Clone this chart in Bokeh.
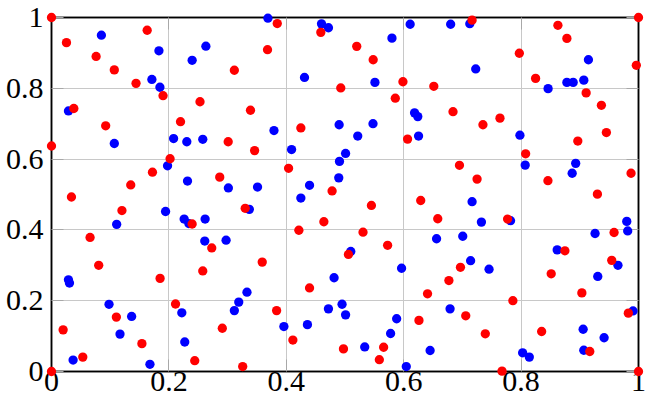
from bokeh.plotting import figure
from bokeh.models import Range1d, LinearAxis, FixedTicker
from bokeh.embed import file_html
from bokeh.resources import INLINE

# ---- data ----
blue_x = [0.085, 0.183, 0.263, 0.2396, 0.171, 0.1847, 0.0289, 0.107, 0.208, 0.2305,
          0.2577, 0.1977, 0.2317, 0.3013, 0.3687, 0.46, 0.4718, 0.611, 0.68, 0.580,
          0.431, 0.551, 0.6185, 0.624, 0.379, 0.490, 0.5477, 0.5217, 0.6253, 0.409,
          0.501, 0.4906, 0.4894, 0.351, 0.4396, 0.4248, 0.7126, 0.7227, 0.9147, 0.846,
          0.878, 0.8887, 0.9068, 0.798, 0.807, 0.893, 0.887, 0.7165, 0.1943, 0.111,
          0.226, 0.234, 0.2617, 0.2611, 0.2974, 0.0289, 0.0306, 0.098, 0.1365, 0.1167,
          0.222, 0.227, 0.0368, 0.1677, 0.333, 0.319, 0.3115, 0.337, 0.656, 0.5098,
          0.5964, 0.4814, 0.4718, 0.495, 0.501, 0.679, 0.3959, 0.436, 0.588, 0.5777,
          0.5336, 0.645, 0.6044, 0.7324, 0.782, 0.980, 0.9816, 0.7006, 0.926, 0.8615,
          0.714, 0.7454, 0.965, 0.9306, 0.9907, 0.9057, 0.9414, 0.9068, 0.8026, 0.814]
blue_y = [0.950, 0.906, 0.919, 0.879, 0.825, 0.803, 0.736, 0.644, 0.658, 0.649,
          0.656, 0.581, 0.538, 0.5186, 0.998, 0.982, 0.971, 0.981, 0.981, 0.9417,
          0.8306, 0.8167, 0.7306, 0.720, 0.6806, 0.697, 0.700, 0.665, 0.665, 0.627,
          0.616, 0.5935, 0.547, 0.521, 0.526, 0.490, 0.9824, 0.8546, 0.8806, 0.799,
          0.8167, 0.8167, 0.823, 0.6676, 0.583, 0.588, 0.560, 0.4796, 0.452, 0.4157,
          0.4306, 0.418, 0.4306, 0.3685, 0.371, 0.259, 0.25, 0.1898, 0.1556, 0.1056,
          0.1657, 0.0833, 0.0324, 0.0204, 0.224, 0.196, 0.172, 0.458, 0.375, 0.339,
          0.2917, 0.2648, 0.177, 0.19, 0.160, 0.177, 0.1269, 0.1324, 0.149, 0.1074,
          0.0694, 0.0593, 0.0139, 0.422, 0.426, 0.424, 0.397, 0.382, 0.3898, 0.3435,
          0.313, 0.289, 0.300, 0.2685, 0.171, 0.1194, 0.0954, 0.060, 0.0528, 0.0407]

red_x = [0.0, 0.0255, 0.163, 0.076, 0.107, 0.144, 0.3115, 0.190, 0.038, 0.253,
         0.339, 0.0923, 0.2198, 0.0, 0.301, 0.202, 0.172, 0.135, 0.2866, 0.034,
         0.3846, 0.4588, 0.368, 0.520, 0.548, 0.4928, 0.5987, 0.6513, 0.5857, 0.4248,
         0.6066, 0.346, 0.4039, 0.478, 0.629, 0.7165, 1.0, 0.8627, 0.878, 0.797,
         0.9963, 0.8247, 0.9108, 0.9368, 0.684, 0.735, 0.764, 0.9453, 0.8966, 0.8077,
         0.695, 0.725, 0.8457, 0.9873, 0.930, 0.120, 0.2396, 0.330, 0.0657, 0.273,
         0.0804, 0.2577, 0.185, 0.2113, 0.1105, 0.0198, 0.291, 0.154, 0.0533, 0.244,
         0.3257, 0.0, 0.545, 0.658, 0.464, 0.4214, 0.5307, 0.5726, 0.5058, 0.359,
         0.4396, 0.6406, 0.677, 0.3835, 0.626, 0.4112, 0.4974, 0.5658, 0.5585, 0.777,
         0.9584, 0.8746, 0.6967, 0.9544, 0.8513, 0.9035, 0.786, 0.7057, 0.9827, 0.739,
         0.835, 0.917, 0.7675, 1.0]
red_y = [1.0, 0.929, 0.964, 0.890, 0.852, 0.814, 0.851, 0.779, 0.743, 0.762,
         0.738, 0.694, 0.7056, 0.637, 0.649, 0.601, 0.563, 0.527, 0.549, 0.493,
         0.983, 0.958, 0.909, 0.9185, 0.8806, 0.801, 0.8185, 0.8056, 0.772, 0.688,
         0.6565, 0.624, 0.574, 0.510, 0.483, 0.9925, 1.0, 0.978, 0.941, 0.899,
         0.865, 0.828, 0.787, 0.752, 0.734, 0.697, 0.7157, 0.675, 0.651, 0.615,
         0.5824, 0.5435, 0.539, 0.560, 0.501, 0.4546, 0.4167, 0.461, 0.3787, 0.349,
         0.300, 0.284, 0.263, 0.1907, 0.1537, 0.1176, 0.1222, 0.0787, 0.0407, 0.0306,
         0.0139, 0.0, 0.469, 0.4315, 0.423, 0.399, 0.3935, 0.3565, 0.3306, 0.309,
         0.236, 0.2194, 0.257, 0.172, 0.1444, 0.0889, 0.0639, 0.0685, 0.0333, 0.4306,
         0.3926, 0.341, 0.2944, 0.314, 0.276, 0.222, 0.200, 0.1574, 0.1648, 0.1065,
         0.113, 0.0565, 0.001, 0.0]

ticks = [0, 0.2, 0.4, 0.6, 0.8, 1]
tick_labels = ["0", "0.2", "0.4", "0.6", "0.8", "1"]

# ---- figure ----
p = figure(width=646, height=405, output_backend="svg", toolbar_location=None,
           x_range=Range1d(0, 1), y_range=Range1d(0, 1),
           x_axis_location=None, y_axis_location=None,
           min_border_left=51, min_border_right=8, min_border_top=17, min_border_bottom=34)
p.background_fill_color = "white"
p.border_fill_color = "white"
p.outline_line_color = "black"
p.outline_line_width = 1.5

overrides = {t: s for t, s in zip(ticks, tick_labels)}
LABEL_FONT = "'Liberation Serif', 'Times New Roman', serif"


def make_axis(labels):
    ax = LinearAxis(ticker=FixedTicker(ticks=ticks))
    ax.major_tick_in = 12
    ax.major_tick_out = 0
    ax.major_tick_line_color = "#a8a8a8"
    ax.major_tick_line_width = 1
    ax.minor_tick_line_color = None
    ax.axis_line_color = "black"
    ax.axis_line_width = 1.5
    if labels:
        ax.major_label_overrides = overrides
        ax.major_label_text_font = LABEL_FONT
        ax.major_label_text_font_size = "30px"
        ax.major_label_text_color = "black"
    else:
        ax.major_label_text_color = None
        ax.major_label_text_font_size = "1px"
        ax.major_label_standoff = 0
    return ax


left = make_axis(True)
left.major_label_standoff = 8
bottom = make_axis(True)
bottom.major_label_standoff = 0
right = make_axis(False)
top = make_axis(False)
p.add_layout(left, "left")
p.add_layout(bottom, "below")
p.add_layout(right, "right")
p.add_layout(top, "above")

p.xgrid.ticker = FixedTicker(ticks=ticks)
p.ygrid.ticker = FixedTicker(ticks=ticks)
p.grid.grid_line_color = "#c8c8c8"
p.grid.grid_line_width = 1

rb = p.scatter(blue_x, blue_y, size=9.3, fill_color="#0000ff", line_color=None)
rr = p.scatter(red_x, red_y, size=9.3, fill_color="#ff0000", line_color=None)
rb.level = "overlay"
rr.level = "overlay"

open("out.html", "w").write(file_html(p, INLINE))
